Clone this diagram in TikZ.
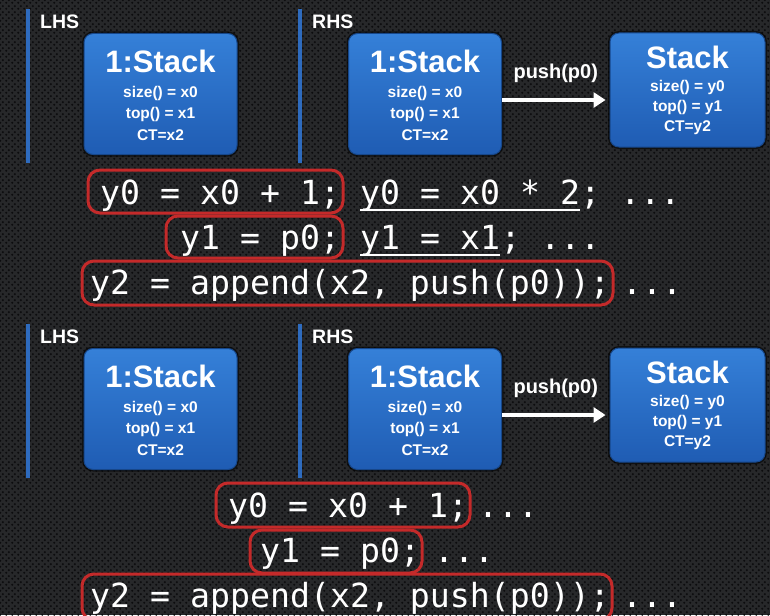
\documentclass[tikz,border=0pt]{standalone}
\usepackage{fontspec}
\setmainfont{Liberation Sans}
\newfontfamily\codefont{DejaVu Sans Mono}
\usetikzlibrary{arrows.meta,patterns.meta}

\definecolor{bgc}{HTML}{27282A}
\definecolor{holec}{HTML}{0C0C0E}
\definecolor{boxtop}{HTML}{3580D8}
\definecolor{boxbot}{HTML}{1F5CB3}
\definecolor{boxedge}{HTML}{17478A}
\definecolor{sideblue}{HTML}{2E6BBE}
\definecolor{hlred}{HTML}{C42A2A}

% perforated-metal texture of the backdrop
\tikzdeclarepattern{
  name=meshholes,
  type=uncolored,
  bottom left={(0pt,0pt)},
  top right={(6pt,6pt)},
  tile size={(6pt,6pt)},
  code={
    \fill (1.5pt,1.5pt) circle (1.3pt);
    \fill (4.5pt,4.5pt) circle (1.3pt);
  }
}

\begin{document}
\begin{tikzpicture}[x=1pt,y=-1pt,
  stackbox/.style={draw=boxedge, line width=1pt, rounded corners=9pt,
    top color=boxtop, bottom color=boxbot,
    preaction={draw=black, line width=4pt, opacity=0.55},
    minimum width=153pt, minimum height=121pt, inner sep=0pt},
  smallbox/.style={stackbox, minimum width=155pt, minimum height=114pt},
  boxtitle/.style={text=white, font=\bfseries\fontsize{31}{31}\selectfont, inner sep=0pt},
  attr/.style={text=white, font=\bfseries\fontsize{15.5}{15.5}\selectfont, inner sep=0pt},
  sidelabel/.style={text=white, font=\bfseries\fontsize{19.5}{19.5}\selectfont, anchor=west, inner sep=0pt},
  siderule/.style={draw=sideblue, line width=4pt},
  code/.style={text=white, font=\codefont\fontsize{33.2}{33.2}\selectfont, anchor=base west, inner sep=0pt},
  redbox/.style={draw=hlred, line width=3pt, rounded corners=12pt},
  uline/.style={draw=white, line width=1.8pt},
  pusharrow/.style={draw=white, line width=4pt, -{Triangle[length=12pt,width=15pt]}, shorten >=4pt},
  pushlabel/.style={text=white, font=\bfseries\fontsize{20}{20}\selectfont, inner sep=0pt}
]
\useasboundingbox (0,0) rectangle (770,615);

% backdrop
\fill[bgc] (0,0) rectangle (770,615);
\fill[pattern=meshholes, pattern color=holec] (0,0) rectangle (770,615);

% the two LHS / RHS panels
\foreach \p/\dy in {A/0,B/315}{
  \begin{scope}[yshift=-\dy pt]
    \draw[siderule] (28,9) -- (28,163);
    \draw[siderule] (300,9) -- (300,163);
    \node[sidelabel] (lhsl\p) at (40,21.5) {LHS};
    \node[sidelabel] (rhsl\p) at (312,21.5) {RHS};

    \node[stackbox] (lhs\p) at (160.5,94) {};
    \node[boxtitle] at ([yshift=-28pt]lhs\p.north) {1:Stack};
    \node[attr] at ([yshift=-60pt]lhs\p.north) {size() = x0};
    \node[attr] at ([yshift=-81pt]lhs\p.north) {top() = x1};
    \node[attr] at ([yshift=-102pt]lhs\p.north) {CT=x2};

    \node[stackbox] (rhs\p) at (425,94) {};
    \node[boxtitle] at ([yshift=-28pt]rhs\p.north) {1:Stack};
    \node[attr] at ([yshift=-60pt]rhs\p.north) {size() = x0};
    \node[attr] at ([yshift=-81pt]rhs\p.north) {top() = x1};
    \node[attr] at ([yshift=-102pt]rhs\p.north) {CT=x2};

    \node[smallbox] (stk\p) at (687.5,90) {};
    \node[boxtitle] at ([yshift=-25pt]stk\p.north) {Stack};
    \node[attr] at ([yshift=-55pt]stk\p.north) {size() = y0};
    \node[attr] at ([yshift=-75pt]stk\p.north) {top() = y1};
    \node[attr] at ([yshift=-95pt]stk\p.north) {CT=y2};

    \draw[pusharrow] ([yshift=-6pt]rhs\p.east) -- ([yshift=-6pt]rhs\p.east -| stk\p.west)
      node[pushlabel, midway, above=15pt] (push\p) {push(p0)};
  \end{scope}
}

% highlighted frame conditions, upper panel
\draw[redbox] (88,170) rectangle (343,213);
\draw[redbox] (166,216) rectangle (343,258);
\draw[redbox] (82,261) rectangle (613,305);

\node[code] (ua1) at (100,204) {y0 = x0 + 1;};
\node[code] (ub1) at (360,204) {y0 = x0 * 2};
\node[code] (uc1) at (ub1.base east) {; ...};
\node[code] (ua2) at (180,249) {y1 = p0;};
\node[code] (ub2) at (360,249) {y1 = x1};
\node[code] (uc2) at (ub2.base east) {; ...};
\node[code] (ua3) at (90,294) {y2 = append(x2, push(p0));};
\node[code] (ub3) at (622,294) {...};

\draw[uline] ([yshift=-6pt]ub1.base west) -- ([yshift=-6pt]ub1.base east);
\draw[uline] ([yshift=-6pt]ub2.base west) -- ([yshift=-6pt]ub2.base east);

% highlighted frame conditions, lower panel
\draw[redbox] (216,483) rectangle (470,527);
\draw[redbox] (250,530) rectangle (422,573);
\draw[redbox] (82,574) rectangle (612,620);

\node[code] (la1) at (228,517) {y0 = x0 + 1;};
\node[code] (lb1) at (478,517) {...};
\node[code] (la2) at (260,562) {y1 = p0;};
\node[code] (lb2) at (434,562) {...};
\node[code] (la3) at (90,607) {y2 = append(x2, push(p0));};
\node[code] (lb3) at (622,607) {...};
\end{tikzpicture}
\end{document}
